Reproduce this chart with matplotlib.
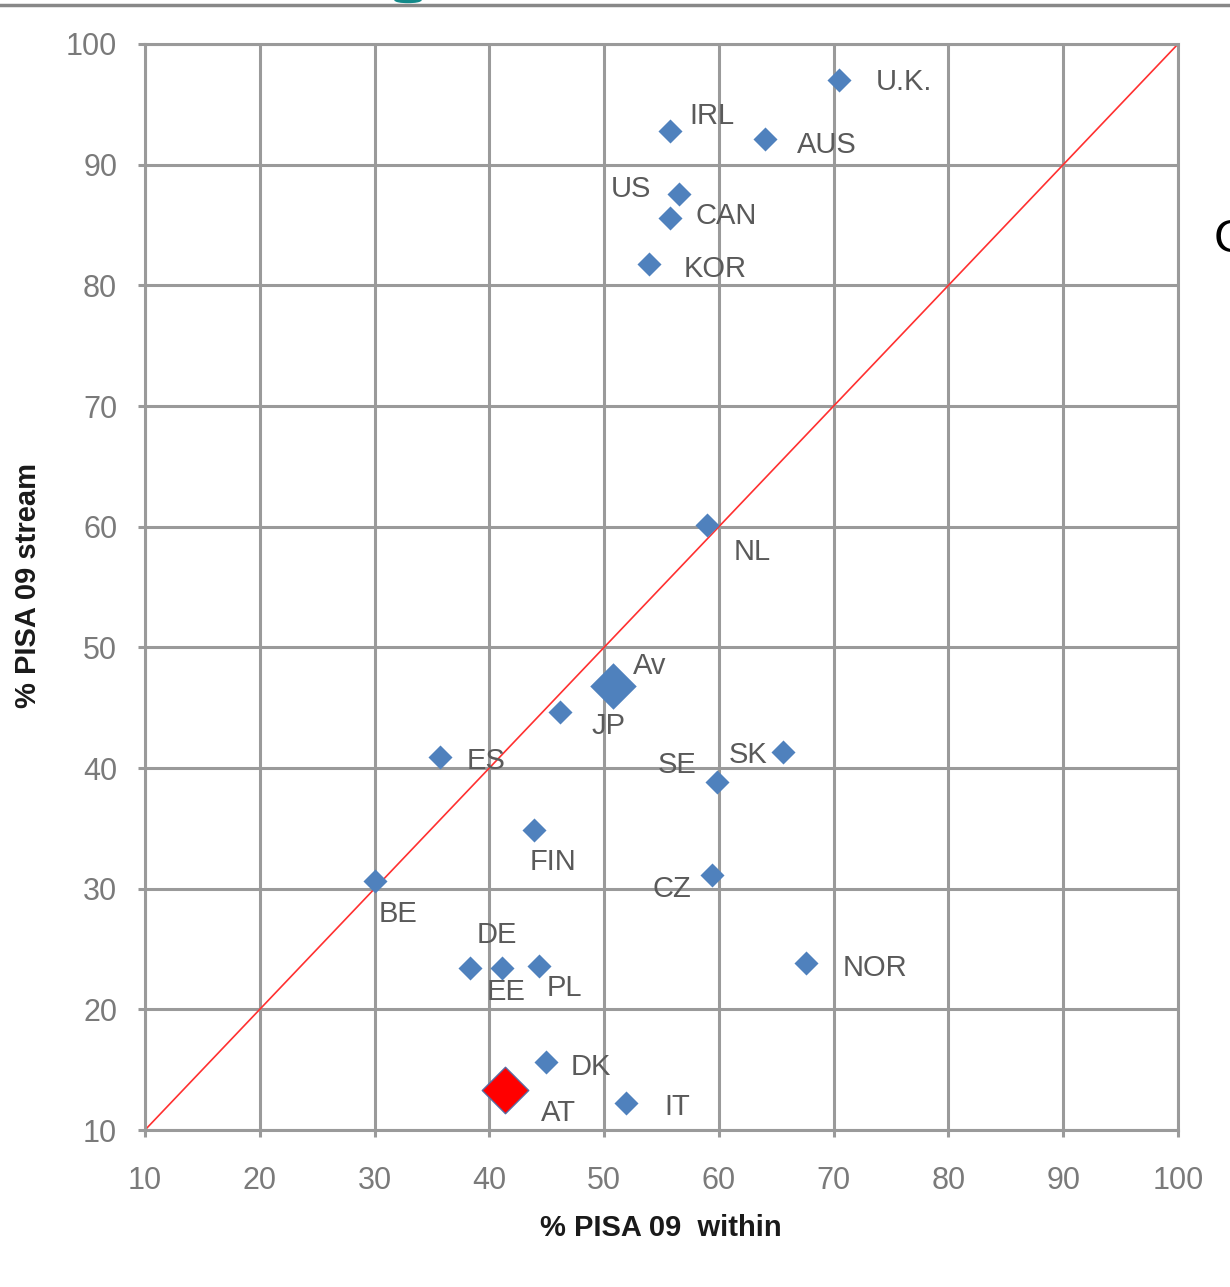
import numpy as np
import matplotlib.pyplot as plt
from matplotlib.patches import Ellipse
from matplotlib.lines import Line2D

# Country values (% PISA 09 within, % PISA 09 stream)
countries = ['U.K.', 'IRL', 'AUS', 'US', 'CAN', 'KOR', 'NL', 'JP', 'ES', 'SK',
             'SE', 'FIN', 'CZ', 'BE', 'DE', 'EE', 'PL', 'NOR', 'DK', 'IT']
within = [70.5, 55.7, 64.0, 56.5, 55.7, 53.9, 59.0, 46.2, 35.7, 65.6,
          59.8, 43.9, 59.4, 30.0, 38.3, 41.1, 44.3, 67.6, 44.9, 51.9]
stream = [97.0, 92.8, 92.1, 87.6, 85.6, 81.8, 60.1, 44.6, 40.9, 41.3,
          38.8, 34.9, 31.1, 30.6, 23.4, 23.4, 23.6, 23.8, 15.6, 12.2]

# highlighted points
avg_point = ('Av', 50.8, 46.8)
at_point = ('AT', 41.4, 13.3)

ticks = list(range(10, 101, 10))

# label offsets in pixels (dx, dy)
label_offsets = {
    'U.K.': (36, 2), 'IRL': (20, 19), 'AUS': (32, -2), 'US': (-68, 9),
    'CAN': (26, 6), 'KOR': (35, -1), 'NL': (26, -23), 'JP': (31, -10),
    'ES': (27, 0), 'SK': (-54, 1), 'SE': (-59, 21), 'FIN': (-4, -28),
    'CZ': (-60, -10), 'BE': (4, -29), 'DE': (7, 37), 'EE': (-15, -20),
    'PL': (8, -18), 'NOR': (37, -1), 'DK': (25, -1), 'IT': (38, 0),
    'Av': (20, 24), 'AT': (36, -19),
}

plt.rcParams['font.family'] = ['Liberation Sans', 'DejaVu Sans']

W, H = 1230, 1287
fig = plt.figure(figsize=(W / 100, H / 100), dpi=100)
ax = fig.add_axes([145 / W, 1 - 1130 / H, 1033 / W, 1086 / H])

grid_col = '#9a9a9a'
ax.set_xlim(10, 100)
ax.set_ylim(10, 100)
ax.set_xticks(ticks)
ax.set_yticks(ticks)
ax.grid(True, color=grid_col, linewidth=2.2, zorder=0)
ax.set_axisbelow(True)
for s in ax.spines.values():
    s.set_color(grid_col)
    s.set_linewidth(2.2)
ax.tick_params(colors=grid_col, width=2.2, length=5, labelcolor='#7a7a7a',
               labelsize=22)
ax.tick_params(axis='x', pad=21)
ax.tick_params(axis='y', pad=15)

# diagonal 45-degree reference line
ax.plot([10, 100], [10, 100], color='#ff3030', linewidth=1.2, zorder=2)

blue = '#4f81bd'
ax.scatter(within, stream, marker='D', s=150, color=blue, zorder=3,
           linewidths=0)
ax.scatter([avg_point[1]], [avg_point[2]], marker='D', s=560, color=blue,
           zorder=3, linewidths=0)
ax.scatter([at_point[1]], [at_point[2]], marker='D', s=560, color='#ff0000',
           edgecolors='#5a6aa0', linewidths=1.0, zorder=3)

pts = list(zip(countries, within, stream)) + [avg_point, at_point]
for name, x, y in pts:
    dx, dy = label_offsets[name]
    ax.annotate(name, (x, y), xytext=(dx, dy - 4), textcoords='offset pixels',
                ha='left', va='center', fontsize=21, color='#5a5a5a',
                zorder=4)

fig.text(661 / W, 1 - 1228 / H, '% PISA 09  within', ha='center', va='center',
         fontsize=21, fontweight='bold', color='#1a1a1a')
fig.text(28 / W, 1 - 586 / H, '% PISA 09 stream', ha='center', va='center',
         fontsize=21, fontweight='bold', color='#1a1a1a', rotation=90)

# bits of the surrounding slide
fig.add_artist(Line2D([0, 1], [1 - 5 / H, 1 - 5 / H], color='#888888',
                      linewidth=2.5, transform=fig.transFigure))
fig.add_artist(Ellipse((408 / W, 1.0), 26 / W, 5 / H, color='#138a8a',
                       transform=fig.transFigure))
fig.text(1214 / W, 1 - 240 / H, 'C', ha='left', va='center', fontsize=34,
         color='black')

fig.savefig('out.png', dpi=100)
